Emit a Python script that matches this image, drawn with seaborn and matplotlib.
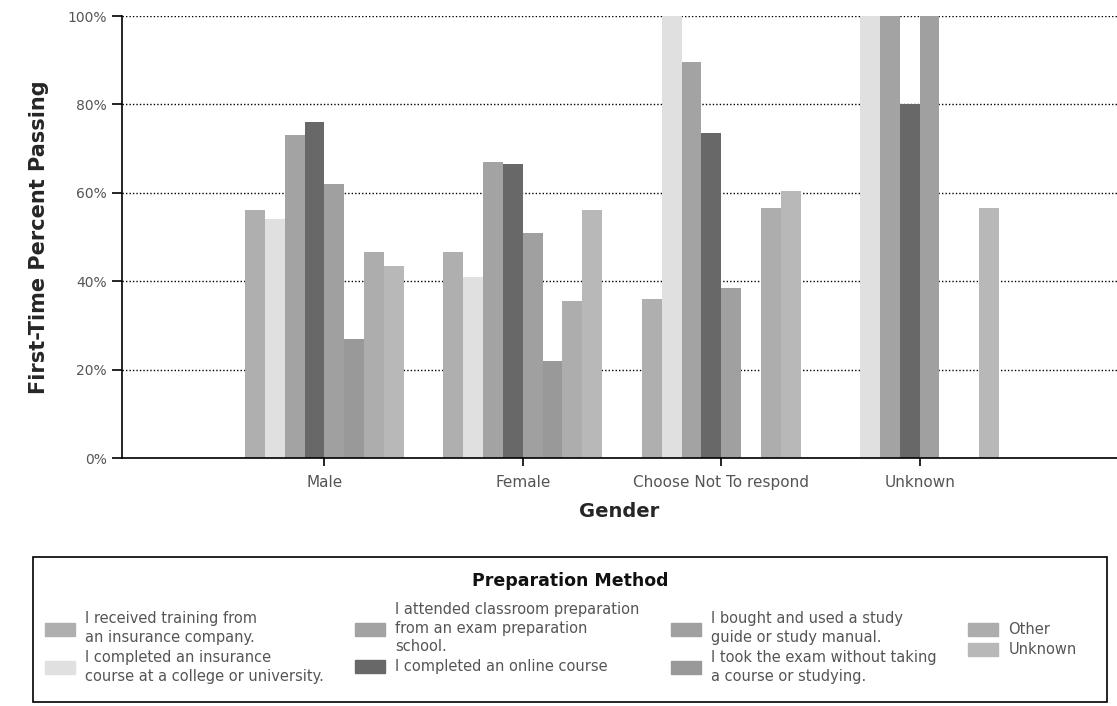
import matplotlib
matplotlib.use("Agg")
import matplotlib.pyplot as plt
import numpy as np
import pandas as pd
import seaborn as sns

# ----------------------
# Data (first-time percent passing)
# ----------------------
genders = ["Male", "Female", "Choose Not To respond", "Unknown"]

methods = [
    "I received training from\nan insurance company.",
    "I completed an insurance\ncourse at a college or university.",
    "I attended classroom preparation\nfrom an exam preparation\nschool.",
    "I completed an online course",
    "I bought and used a study\nguide or study manual.",
    "I took the exam without taking\na course or studying.",
    "Other",
    "Unknown",
]

# one list per gender, in the order of `methods` (None = no bar)
male = [56, 54, 73, 76, 62, 27, 46.5, 43.5]
female = [46.5, 41, 67, 66.5, 51, 22, 35.5, 56]
no_response = [36, 100, 89.5, 73.5, 38.5, None, 56.5, 60.5]
unknown = [None, 100, 100, 80, 100, None, None, 56.5]

colors = ["#afafaf", "#e0e0e0", "#a3a3a3", "#686868",
          "#a0a0a0", "#999999", "#adadad", "#b8b8b8"]

rows = []
for g, vals in zip(genders, [male, female, no_response, unknown]):
    for m, v in zip(methods, vals):
        if v is not None:
            rows.append({"gender": g, "method": m, "pct": v})
df = pd.DataFrame(rows)

# ----------------------
# Plot
# ----------------------
sns.set_style("white")
plt.rcParams["font.family"] = ["DejaVu Sans"]

W, H = 1117, 706
fig = plt.figure(figsize=(W / 100, H / 100), dpi=100)
ax = fig.add_axes([122 / W, 248 / H, 995 / W, 442 / H])

sns.barplot(
    data=df, x="gender", y="pct", hue="method",
    order=genders, hue_order=methods, palette=colors,
    width=0.8, errorbar=None, linewidth=0, ax=ax, legend=False,
)

ax.set_ylim(0, 100)
ax.set_xlim(-1.02, 3.995)
ax.set_yticks([0, 20, 40, 60, 80, 100])
ax.set_yticklabels(["0%", "20%", "40%", "60%", "80%", "100%"])

ax.yaxis.grid(True, linestyle=(0, (1, 1.5)), color="black", linewidth=1)
ax.set_axisbelow(True)

for side in ["top", "right"]:
    ax.spines[side].set_visible(False)
for side in ["left", "bottom"]:
    ax.spines[side].set_color("black")
    ax.spines[side].set_linewidth(1.2)

ax.tick_params(axis="y", direction="out", length=7, width=1.2, color="black",
               labelsize=10, labelcolor="#555555", left=True, pad=4)
ax.tick_params(axis="x", direction="out", length=6, width=1.2, color="black",
               labelsize=11, labelcolor="#555555", bottom=True, pad=6)

ax.set_xlabel("Gender", fontsize=14, fontweight="bold")
ax.xaxis.set_label_coords(0.5, -0.1)
ax.set_ylabel("First-Time Percent Passing", fontsize=15, fontweight="bold")
ax.yaxis.set_label_coords(-0.073, 0.5)

# ----------------------
# Legend box below the chart
# ----------------------
box = plt.Rectangle((33 / W, 4 / H), 1074 / W, 145 / H, transform=fig.transFigure,
                    fill=False, edgecolor="black", linewidth=1.2)
fig.patches.append(box)
fig.text(570 / W, 1 - 581 / H, "Preparation Method", ha="center", va="center",
         fontsize=12.5, fontweight="bold", color="#111111")

handles = [plt.Rectangle((0, 0), 1, 1, color=c) for c in colors]
leg = fig.legend(
    handles, methods, ncol=4, loc="upper left",
    bbox_to_anchor=(45 / W, 1 - 602 / H),
    borderaxespad=0, borderpad=0, fontsize=10.5, frameon=False,
    handlelength=2.05, handleheight=1.0, handletextpad=0.7,
    labelspacing=0.35, columnspacing=2.15,
)
for t in leg.get_texts():
    t.set_color("#555555")
    t.set_linespacing(1.3)

fig.savefig("out.png", dpi=100)
